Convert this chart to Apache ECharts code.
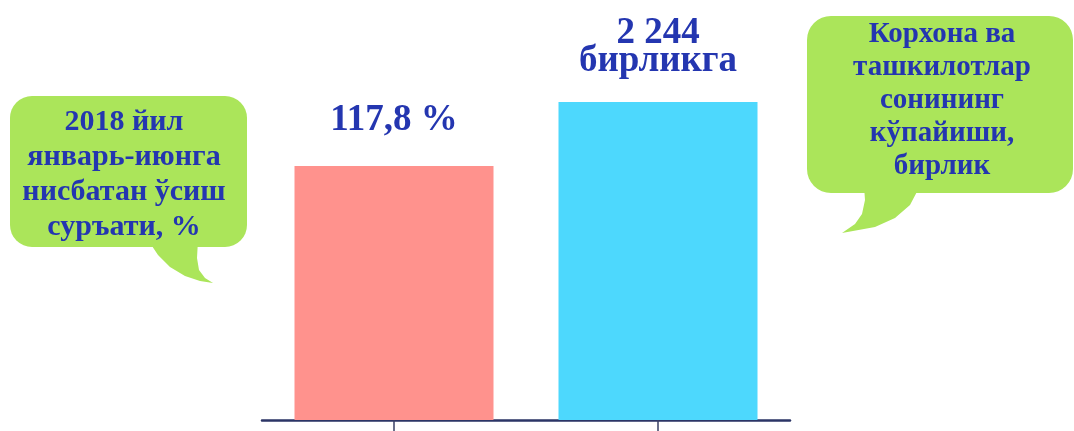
<!DOCTYPE html>
<html>
<head>
<meta charset="utf-8">
<script src="https://cdn.jsdelivr.net/npm/echarts@6/dist/echarts.min.js"></script>
<style>
  html, body { margin: 0; padding: 0; background: #fff; }
  #chart { width: 1074px; height: 431px; }
</style>
</head>
<body>
<div id="chart"></div>
<script>
// chart data
const categories = ['Ўсиш суръати', 'Корхона ва ташкилотлар']
const growthRate = [117.8, '-']
const companyIncrease = ['-', 2244]
const valueLabels = ['117,8 %', '2 244\nбирликга']
const leftBubbleText = ['2018 йил', 'январь-июнга', 'нисбатан ўсиш', 'суръати, %']
const rightBubbleText = ['Корхона ва', 'ташкилотлар', 'сонининг', 'кўпайиши,', 'бирлик']

const textColor = '#2436b0'
const bubbleColor = '#abe55a'
const serif = '"Liberation Serif", "DejaVu Serif", serif'

const chart = echarts.init(document.getElementById('chart'))

const valueLabel = (idx, distance) => ({
  show: true,
  position: 'top',
  distance,
  formatter: () => valueLabels[idx],
  color: textColor,
  fontFamily: serif,
  fontWeight: 'bold',
  fontSize: 37,
  lineHeight: 28
})

chart.setOption({
  animation: false,
  grid: { left: 262, right: 284, top: 20, bottom: 11 },
  xAxis: {
    type: 'category',
    data: categories,
    axisLine: { show: true, lineStyle: { color: '#2b3566', width: 2.5 } },
    axisTick: { show: true, alignWithLabel: true, length: 14, lineStyle: { color: '#3a4066', width: 1.5 } },
    axisLabel: { show: false }
  },
  yAxis: [
    { type: 'value', min: 0, max: 185.5, show: false },
    { type: 'value', min: 0, max: 2822.6, show: false }
  ],
  series: [
    {
      type: 'bar',
      yAxisIndex: 0,
      data: growthRate,
      barWidth: 199,
      barGap: '-100%',
      itemStyle: { color: '#ff928d' },
      label: valueLabel(0, 32)
    },
    {
      type: 'bar',
      yAxisIndex: 1,
      data: companyIncrease,
      barWidth: 199,
      barGap: '-100%',
      itemStyle: { color: '#4dd8fd' },
      label: valueLabel(1, 27)
    }
  ],
  graphic: [
    // left speech bubble
    {
      type: 'polygon',
      shape: { points: [[148, 240], [198, 240], [197, 258], [199, 270], [205, 278], [213, 283], [200, 281], [185, 276], [170, 267], [158, 255]] },
      style: { fill: bubbleColor }
    },
    {
      type: 'rect',
      shape: { x: 10, y: 96, width: 237, height: 151, r: 22 },
      style: { fill: bubbleColor }
    },
    {
      type: 'text',
      x: 124,
      y: 175,
      style: {
        text: leftBubbleText.join('\n'),
        fill: textColor,
        font: 'bold 30px ' + serif,
        lineHeight: 35,
        align: 'center',
        verticalAlign: 'middle'
      }
    },
    // right speech bubble
    {
      type: 'polygon',
      shape: { points: [[864, 186], [920, 186], [910, 205], [895, 218], [875, 227], [842, 233], [855, 224], [862, 214], [865, 200]] },
      style: { fill: bubbleColor }
    },
    {
      type: 'rect',
      shape: { x: 807, y: 16, width: 266, height: 177, r: 24 },
      style: { fill: bubbleColor }
    },
    {
      type: 'text',
      x: 942,
      y: 101,
      style: {
        text: rightBubbleText.join('\n'),
        fill: textColor,
        font: 'bold 29px ' + serif,
        lineHeight: 33,
        align: 'center',
        verticalAlign: 'middle'
      }
    }
  ]
})
</script>
</body>
</html>
